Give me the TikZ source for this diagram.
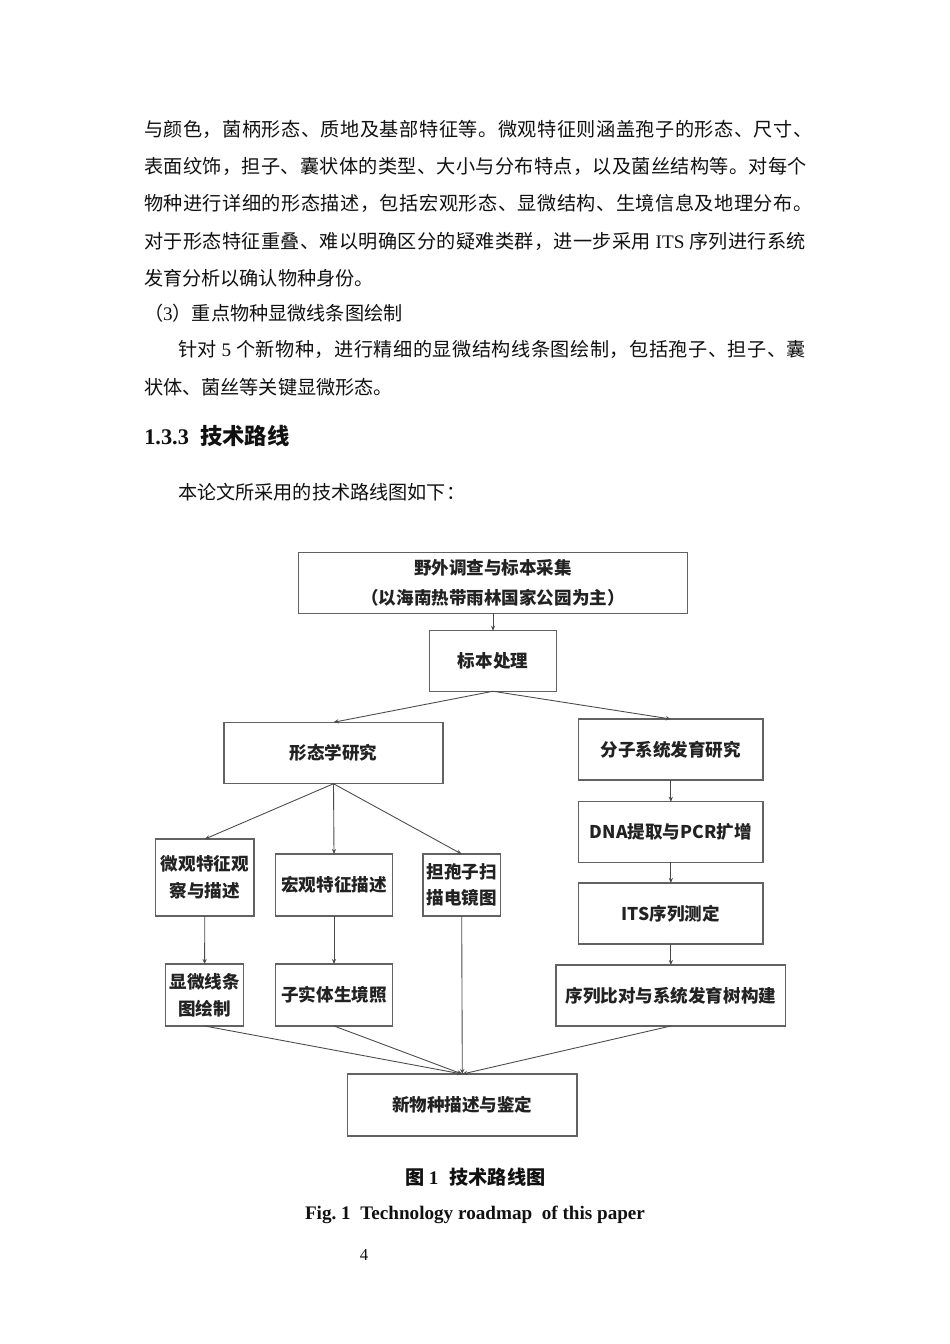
\documentclass[tikz,border=0pt]{standalone}
\usepackage{fontspec}
\setmainfont{Liberation Serif}
\newfontfamily\cjk{Noto Sans CJK SC}
\newfontfamily\cjkwa{Noto Sans CJK SC}[LetterSpace=2.7]
\newfontfamily\cjkwb{Noto Sans CJK SC}[LetterSpace=1.9]
\usetikzlibrary{arrows.meta}
\definecolor{boxc}{HTML}{626262}
\definecolor{arrc}{HTML}{4A4A4A}
\definecolor{txt}{HTML}{222222}
\definecolor{bodyc}{HTML}{111111}
\tikzset{
  bodyline/.style={anchor=base west, inner sep=0pt, outer sep=0pt, text=bodyc,
    font=\cjk\fontsize{12}{14}\selectfont},
  box/.style={draw=boxc, line width=0.8pt, inner sep=0pt, outer sep=0pt, align=center,
    text=txt, font=\cjk\bfseries\fontsize{11}{16.7}\selectfont},
  arr/.style={draw=arrc, line width=0.55pt, -{Stealth[length=3.2pt,width=2.6pt]}}
}
\begin{document}
\begin{tikzpicture}[x=0.6266pt,y=-0.6266pt]
\useasboundingbox[fill=white] (0,0) rectangle (950,1344);

% ---- body text ----
\node[bodyline, font=\cjkwa\fontsize{12}{14}\selectfont] (l1) at (144,136.3) {与颜色，菌柄形态、质地及基部特征等。微观特征则涵盖孢子的形态、尺寸、};
\node[bodyline, font=\cjkwb\fontsize{12}{14}\selectfont] (l2) at (144,173.3) {表面纹饰，担子、囊状体的类型、大小与分布特点，以及菌丝结构等。对每个};
\node[bodyline, font=\cjkwa\fontsize{12}{14}\selectfont] (l3) at (144,210.3) {物种进行详细的形态描述，包括宏观形态、显微结构、生境信息及地理分布。};
\node[bodyline, font=\cjkwb\fontsize{12}{14}\selectfont] (l4) at (144,248.3) {对于形态特征重叠、难以明确区分的疑难类群，进一步采用 {\rmfamily ITS} 序列进行系统};
\node[bodyline] (l5) at (144,285.3) {发育分析以确认物种身份。};
\node[bodyline] (l6) at (144,320.8) {（{\rmfamily 3}）重点物种显微线条图绘制};
\node[bodyline, font=\cjkwa\fontsize{12}{14}\selectfont] (l7) at (178,356.8) {针对 {\rmfamily 5} 个新物种，进行精细的显微结构线条图绘制，包括孢子、担子、囊};
\node[bodyline] (l8) at (144,394.8) {状体、菌丝等关键显微形态。};

\node[anchor=base west, inner sep=0pt, text=bodyc, font=\bfseries\fontsize{14}{16}\selectfont] (head) at (144,444) {1.3.3\hspace{7pt}{\cjk 技术路线}};
\node[bodyline] (intro) at (178,499) {本论文所采用的技术路线图如下：};

% ---- diagram ----
\node[box, minimum width=244.1pt, minimum height=38.1pt, font=\cjk\bfseries\fontsize{11}{18.8}\selectfont] (top) at (493,583) {野外调查与标本采集\\（以海南热带雨林国家公园为主）};
\node[box, minimum width=79.6pt, minimum height=37.9pt] (proc) at (493,661) {标本处理};
\node[box, minimum width=137.2pt, minimum height=38.5pt] (morph) at (333.5,753) {形态学研究};
\node[box, minimum width=115.5pt, minimum height=38.2pt] (mol) at (670.85,749.5) {分子系统发育研究};
\node[box, minimum width=61.5pt, minimum height=48.2pt] (micro) at (204.8,877.5) {微观特征观\\察与描述};
\node[box, minimum width=73.0pt, minimum height=38.8pt] (macro) at (334,885) {宏观特征描述};
\node[box, minimum width=48.5pt, minimum height=38.8pt] (sem) at (461.7,885) {担孢子扫\\描电镜图};
\node[box, minimum width=115.5pt, minimum height=37.8pt] (dna) at (670.85,832) {DNA提取与PCR扩增};
\node[box, minimum width=115.5pt, minimum height=38.2pt] (its) at (670.85,913.5) {ITS序列测定};
\node[box, minimum width=48.7pt, minimum height=38.8pt] (drw) at (204.6,995) {显微线条\\图绘制};
\node[box, minimum width=73.0pt, minimum height=38.8pt] (photo) at (334,995) {子实体生境照};
\node[box, minimum width=143.9pt, minimum height=38.2pt] (seq) at (670.85,995.5) {序列比对与系统发育树构建};
\node[box, minimum width=143.7pt, minimum height=38.8pt] (new) at (462.3,1105) {新物种描述与鉴定};

\draw[arr] (top.south) -- (proc.north);
\draw[arr] (proc.south) -- (morph.north);
\draw[arr] (proc.south) -- (mol.north);
\draw[arr] (morph.south) -- (micro.north);
\draw[arr] (morph.south) -- (macro.north);
\draw[arr] (morph.south) -- (sem.north);
\draw[arr] (micro.south) -- (drw.north);
\draw[arr] (macro.south) -- (photo.north);
\draw[arr] (mol.south) -- (dna.north);
\draw[arr] (dna.south) -- (its.north);
\draw[arr] (its.south) -- (seq.north);
\draw[arr] (drw.south) -- (new.north);
\draw[arr] (photo.south) -- (new.north);
\draw[arr] (sem.south) -- (new.north);
\draw[arr] (seq.south) -- (new.north);

% ---- captions ----
\node[inner sep=0pt, text=bodyc, font=\bfseries\fontsize{12}{14}\selectfont] (cap1) at (475.5,1177) {{\cjk 图}\hspace{2.5pt}1\hspace{7pt}{\cjk 技术路线图}};
\node[inner sep=0pt, text=bodyc, font=\bfseries\fontsize{12}{14}\selectfont] (cap2) at (475,1215) {Fig.\ 1\hspace{6pt}Technology roadmap\hspace{6pt}of this paper};
\node[inner sep=0pt, text=bodyc, font=\fontsize{10.5}{12}\selectfont] (pnum) at (364,1255) {4};
\end{tikzpicture}
\end{document}
